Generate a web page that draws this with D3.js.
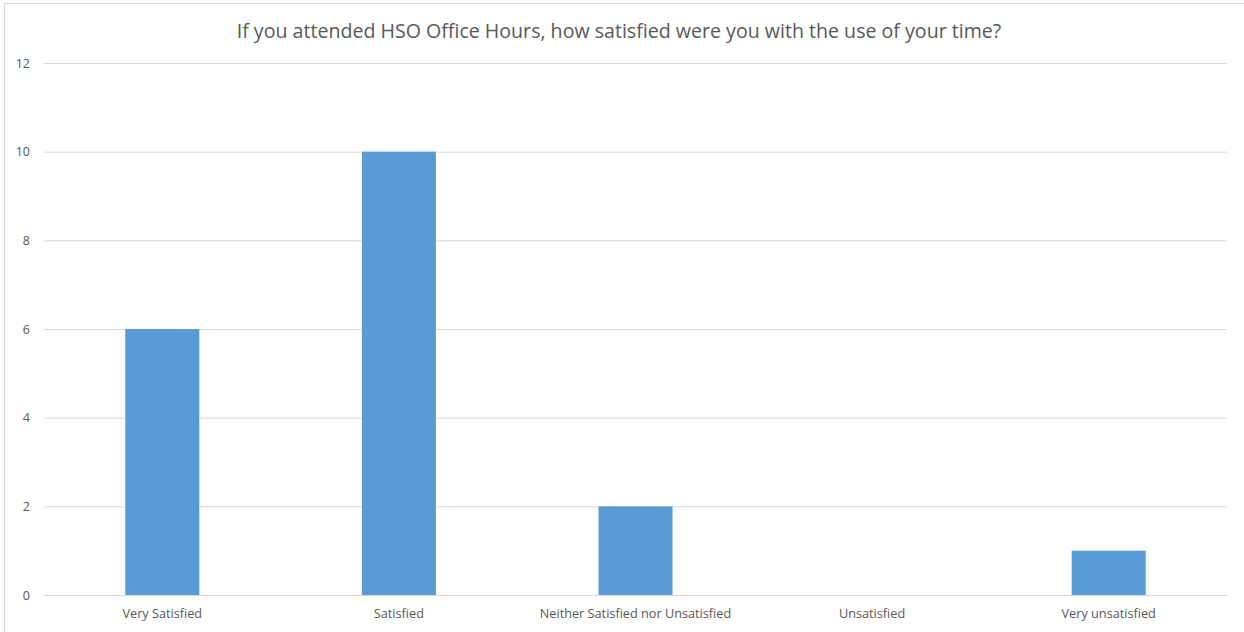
<!DOCTYPE html>
<html><head><meta charset="utf-8">
<script src="https://cdn.jsdelivr.net/npm/d3@7"></script>
<style>body{margin:0;background:#fff;} text{font-family:"Open Sans","Noto Sans",sans-serif;}</style>
</head><body>
<svg id="c" width="1244" height="632"></svg>
<script>
const categories = ["Very Satisfied","Satisfied","Neither Satisfied nor Unsatisfied","Unsatisfied","Very unsatisfied"];
const values = [6,10,2,0,1];
const yTicks = [0,2,4,6,8,10,12];
const title = "If you attended HSO Office Hours, how satisfied were you with the use of your time?";

(function(){
const svg = d3.select("#c");
svg.append("rect").attr("x",4.5).attr("y",3.5).attr("width",1250).attr("height",640)
  .attr("fill","#fff").attr("stroke","#D9D9D9");

const pl=44,pr=1227,pt=63,pb=595;
const x = d3.scaleBand().domain(categories).range([pl,pr]).paddingInner(0.687).paddingOuter(0.3435);
const y = d3.scaleLinear().domain([0,12]).range([pb,pt]);

svg.append("text").attr("x",619).attr("y",38).attr("text-anchor","middle")
  .attr("font-size",19.6).attr("fill","#595959").text(title);

const ga = svg.append("g").attr("transform",`translate(${pl},0)`)
  .call(d3.axisLeft(y).tickValues(yTicks).tickSize(-(pr-pl)).tickPadding(14));
ga.select(".domain").remove();
ga.selectAll(".tick line").attr("stroke","#D9D9D9");
ga.selectAll(".tick text").attr("fill","#595959").attr("font-size",12.5);

svg.selectAll("rect.bar").data(values).enter().append("rect").attr("class","bar")
  .attr("x",(d,i)=>x(categories[i])).attr("width",x.bandwidth())
  .attr("y",d=>y(d)).attr("height",d=>pb-y(d)).attr("fill","#5B9BD5");

const gx = svg.append("g").attr("transform",`translate(0,${pb})`)
  .call(d3.axisBottom(x).tickSize(0).tickPadding(14));
gx.select(".domain").attr("stroke","#D9D9D9");
gx.selectAll(".tick text").attr("fill","#595959").attr("font-size",12.7);
})();
</script>
</body></html>
